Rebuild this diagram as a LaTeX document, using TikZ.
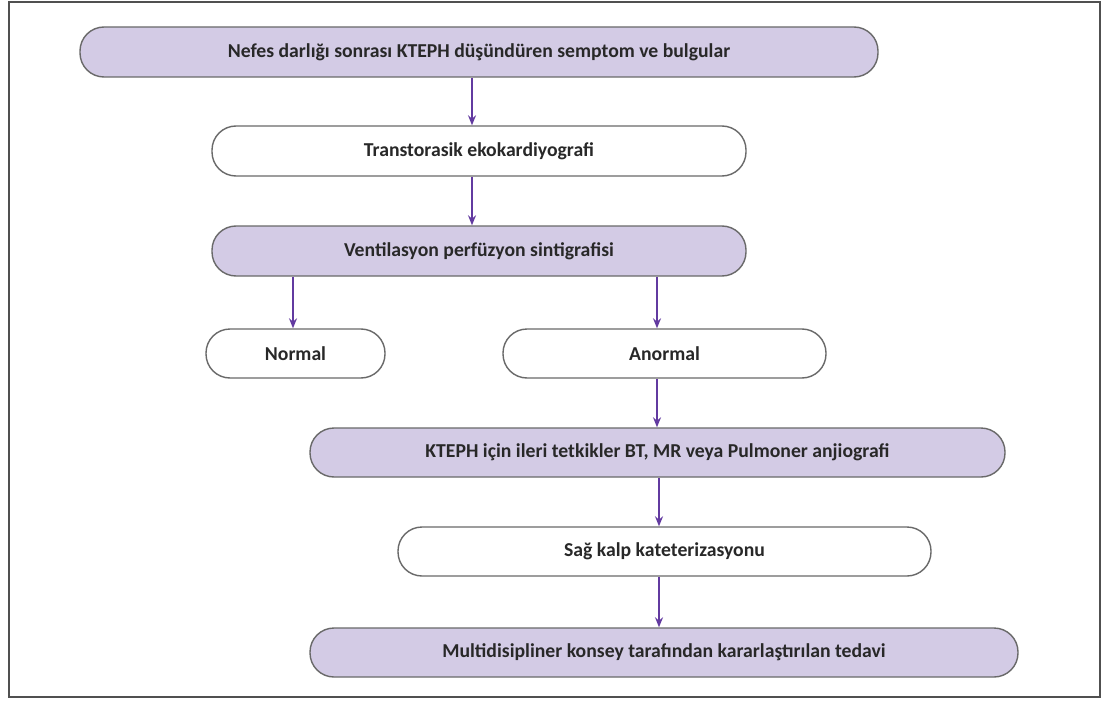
\documentclass[tikz,border=0pt]{standalone}
\usepackage{fontspec}
\setmainfont{Carlito}
\usetikzlibrary{arrows.meta}
\definecolor{boxfill}{RGB}{211,203,229}
\definecolor{boxline}{RGB}{105,105,105}
\definecolor{arrowpurple}{RGB}{98,58,160}
\definecolor{textgray}{RGB}{40,40,40}
\definecolor{framegray}{RGB}{80,80,80}
\begin{document}
\begin{tikzpicture}[x=1pt,y=1pt,
  flowbox/.style={draw=boxline, line width=1.4pt, rounded corners=24pt,
    minimum height=50pt, inner sep=0pt, text=textgray,
    font=\fontsize{19.7}{23}\selectfont\bfseries},
  shaded/.style={flowbox, fill=boxfill},
  plain/.style={flowbox, fill=white},
  arr/.style={draw=arrowpurple, line width=1.4pt,
    -{Stealth[length=10pt,width=8pt]}}]
\useasboundingbox (0,0) rectangle (1103,-706);
\draw[framegray, line width=1.6pt] (9,-2) rectangle (1100,-697);

\node[shaded, minimum width=798pt] (n1) at (479,-52)
  {Nefes darlığı sonrası KTEPH düşündüren semptom ve bulgular};
\node[plain, minimum width=534pt] (n2) at (479,-151)
  {Transtorasik ekokardiyografi};
\node[shaded, minimum width=534pt] (n3) at (479,-251)
  {Ventilasyon perfüzyon sintigrafisi};
\node[plain, minimum width=179pt, minimum height=49pt] (n4) at (295.5,-353.5)
  {Normal};
\node[plain, minimum width=323pt, minimum height=49pt] (n5) at (664.5,-353.5)
  {Anormal};
\node[shaded, minimum width=695pt, minimum height=49pt] (n6) at (657.5,-452.5)
  {KTEPH için ileri tetkikler BT, MR veya Pulmoner anjiografi};
\node[plain, minimum width=533pt, minimum height=49pt] (n7) at (664.5,-551.5)
  {Sağ kalp kateterizasyonu};
\node[shaded, minimum width=708pt, minimum height=49pt] (n8) at (664,-652.5)
  {Multidisipliner konsey tarafından kararlaştırılan tedavi};

% columns along which the connectors run
\coordinate (xa) at (472,0);
\coordinate (xb) at (293,0);
\coordinate (xc) at (657,0);
\coordinate (xd) at (659,0);

\draw[arr] (n1.south -| xa) -- (n2.north -| xa);
\draw[arr] (n2.south -| xa) -- (n3.north -| xa);
\draw[arr] (n3.south -| xb) -- (n4.north -| xb);
\draw[arr] (n3.south -| xc) -- (n5.north -| xc);
\draw[arr] (n5.south -| xc) -- (n6.north -| xc);
\draw[arr] (n6.south -| xd) -- (n7.north -| xd);
\draw[arr] (n7.south -| xd) -- (n8.north -| xd);
\end{tikzpicture}
\end{document}
